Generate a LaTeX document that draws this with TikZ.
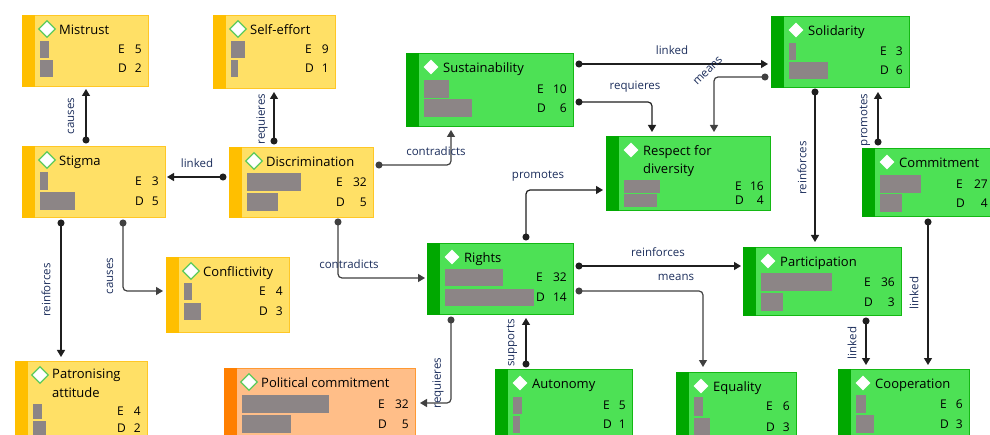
\documentclass[tikz,border=0pt]{standalone}
\usepackage{fontspec}
\setmainfont{Open Sans}
\usetikzlibrary{calc,arrows.meta,shapes.geometric}
\definecolor{yfill}{HTML}{FFE066}
\definecolor{ybar}{HTML}{FFBF00}
\definecolor{yline}{HTML}{FFC726}
\definecolor{gfill}{HTML}{4DE155}
\definecolor{gbar}{HTML}{00A800}
\definecolor{gline}{HTML}{14B814}
\definecolor{ofill}{HTML}{FFBE88}
\definecolor{obar}{HTML}{FF7F00}
\definecolor{oline}{HTML}{FF9933}
\definecolor{barc}{HTML}{8C8586}
\definecolor{lab}{HTML}{1C2E5C}
\definecolor{dgreen}{HTML}{5CCB5C}
\tikzset{
  boxy/.style={fill=yfill,draw=yline,line width=1pt,inner sep=0pt},
  boxg/.style={fill=gfill,draw=gline,line width=1pt,inner sep=0pt},
  boxo/.style={fill=ofill,draw=oline,line width=1pt,inner sep=0pt},
  bary/.style={fill=ybar},
  barg/.style={fill=gbar},
  baro/.style={fill=obar},
  diay/.style={diamond,fill=white,draw=dgreen,line width=1.2pt,minimum width=17pt,minimum height=17pt,inner sep=0pt},
  diag/.style={diamond,fill=white,minimum width=15pt,minimum height=15pt,inner sep=0pt},
  diao/.style={diay},
  ttl/.style={anchor=base west,inner sep=0pt,align=left,font=\fontsize{13}{18.5}\selectfont,text=black},
  val/.style={inner sep=0pt,font=\fontsize{12}{14}\selectfont,text=black},
  lbl/.style={inner sep=0pt,font=\fontsize{11.5}{13}\selectfont,text=lab},
  conn/.style={draw=black!88,line width=1.2pt,{Circle[length=7pt]}-{Triangle[width=8pt,length=7pt]},shorten <=-3.5pt,rounded corners=4pt},
  conng/.style={conn,draw=black!75},
}
% optional #1: baseline offset of the (last) title line
\newcommand\mkbox[8][19.5]{%
  \node[box#3,minimum width=#6pt,minimum height=#7pt,anchor=north west] (#2) at (#4,#5) {};
  \fill[bar#3] (#2.north west) rectangle ($(#2.south west)+(13,0)$);
  \node[dia#3] (#2-d) at ($(#2.north west)+(25,14)$) {};
  \node[ttl] (#2-t) at ($(#2.north west)+(37,#1)$) {#8};
}
\newcommand\bars[9]{%
  \fill[barc] ($(#1.north west)+(18,#2)$) rectangle ++(#5,#4);
  \fill[barc] ($(#1.north west)+(18,#3)$) rectangle ++(#6,#4);
  \node[val,anchor=west] (#1-el) at ($(#1.north east)+(-#9,#2+#4/2)$) {E};
  \node[val,anchor=east] (#1-ev) at ($(#1.north east)+(-7,#2+#4/2)$) {#7};
  \node[val,anchor=west] (#1-dl) at ($(#1.north east)+(-#9,#3+#4/2)$) {D};
  \node[val,anchor=east] (#1-dv) at ($(#1.north east)+(-7,#3+#4/2)$) {#8};
}
\begin{document}
\begin{tikzpicture}[x=1pt,y=-1pt]
\useasboundingbox (0,0) rectangle (990,435);
\clip (0,0) rectangle (990,435);
\fill[white] (0,0) rectangle (990,435);

\mkbox{mistrust}{y}{22}{15}{126}{71}{Mistrust}
\bars{mistrust}{26}{45}{17}{9}{13}{5}{2}{31}
\mkbox{selfeffort}{y}{213}{15}{122}{73}{Self-effort}
\bars{selfeffort}{26}{45}{17}{14}{7}{9}{1}{31}
\mkbox{stigma}{y}{22}{146}{143}{71}{Stigma}
\bars{stigma}{26}{46}{18}{8}{35}{3}{5}{31}
\mkbox{discrimination}{y}{229}{147}{144}{70}{Discrimination}
\bars{discrimination}{26}{46}{18}{54}{31}{32}{5}{38}
\mkbox{conflictivity}{y}{166}{257}{123}{75}{Conflictivity}
\bars{conflictivity}{26}{46}{17}{8}{17}{4}{3}{31}
\mkbox[36]{patronising}{y}{15}{361}{132}{90}{Patronising\\attitude}
\bars{patronising}{43}{60}{15}{9}{13}{4}{2}{31}
\mkbox{political}{o}{224}{368}{191}{80}{Political commitment}
\bars{political}{27}{47}{18}{87}{49}{32}{5}{38}
\mkbox{sustainability}{g}{406}{53}{167}{73}{Sustainability}
\bars{sustainability}{27}{46}{18}{25}{48}{10}{6}{37}
\mkbox[38]{respect}{g}{606}{136}{164}{74}{Respect for\\diversity}
\bars{respect}{44}{58}{13}{36}{33}{16}{4}{36}
\mkbox{solidarity}{g}{771}{16}{138}{71}{Solidarity}
\bars{solidarity}{27}{46}{17}{7}{39}{3}{6}{30}
\mkbox{commitment}{g}{862}{148}{132}{68}{Commitment}
\bars{commitment}{27}{46}{18}{41}{22}{27}{4}{39}
\mkbox{rights}{g}{427}{243}{146}{71}{Rights}
\bars{rights}{26}{46}{17}{58}{89}{32}{14}{38}
\mkbox{autonomy}{g}{495}{369}{137}{80}{Autonomy}
\bars{autonomy}{28}{47}{17}{9}{7}{5}{1}{30}
\mkbox{equality}{g}{676}{372}{120}{80}{Equality}
\bars{equality}{25}{46}{19}{9}{16}{6}{3}{31}
\mkbox{participation}{g}{743}{247}{158}{68}{Participation}
\bars{participation}{26}{46}{18}{71}{22}{36}{3}{38}
\mkbox{cooperation}{g}{838}{369}{131}{80}{Cooperation}
\bars{cooperation}{26}{46}{18}{10}{18}{6}{3}{30}

\draw[conn] ($(stigma.north west)+(64,-6)$) -- ($(mistrust.north west)+(64,74)$);
\draw[conn] ($(discrimination.north west)+(45,-6)$) -- ($(selfeffort.north west)+(61,77)$);
\draw[conn] ($(discrimination.north west)+(-6,30)$) -- ($(stigma.north west)+(145,31)$);
\draw[conng] ($(discrimination.north west)+(150,18)$) -| ($(sustainability.north west)+(45,77)$);
\draw[conng] ($(discrimination.north west)+(109,75)$) |- ($(rights.north west)+(-2,35)$);
\draw[conn] ($(stigma.north west)+(39,77)$) -- ($(patronising.north west)+(46,-4)$);
\draw[conng] ($(stigma.north west)+(101,77)$) |- ($(conflictivity.north west)+(-3,34)$);
\draw[conn] ($(sustainability.north west)+(173,11)$) -- ($(solidarity.north west)+(-3,48)$);
\draw[conn] ($(sustainability.north west)+(173,49)$) -| ($(respect.north west)+(46,-4)$);
\draw[conng] ($(solidarity.north west)+(-6,61)$) -| ($(respect.north west)+(108,-4)$);
\draw[conn] ($(rights.north west)+(99,-6)$) |- ($(respect.north west)+(-3,54)$);
\draw[conn] ($(solidarity.north west)+(44,76)$) -- ($(participation.north west)+(72,-5)$);
\draw[conn] ($(commitment.north west)+(16,-6)$) -- ($(solidarity.north west)+(107,76)$);
\draw[conn] ($(rights.north west)+(152,23)$) -- ($(participation.north west)+(-2,19)$);
\draw[conng] ($(rights.north west)+(152,48)$) -| ($(equality.north west)+(27,-5)$);
\draw[conng] ($(rights.north west)+(24,77)$) |- ($(political.north west)+(196,35)$);
\draw[conn] ($(autonomy.north west)+(31,-5)$) -- ($(rights.north west)+(99,75)$);
\draw[conn] ($(participation.north west)+(123,74)$) -- ($(cooperation.north west)+(28,-4)$);
\draw[conn] ($(commitment.north west)+(66,74)$) -- ($(cooperation.north west)+(90,-4)$);

\node[lbl,rotate=90] (l1) at (71,116) {causes};
\node[lbl,rotate=90] (l2) at (262,119) {requieres};
\node[lbl] (l3) at (197,163) {linked};
\node[lbl] (l4) at (436,151) {contradicts};
\node[lbl] (l5) at (349,264) {contradicts};
\node[lbl,rotate=90] (l6) at (46,290) {reinforces};
\node[lbl,rotate=90] (l7) at (110,276) {causes};
\node[lbl] (l8) at (672,50) {linked};
\node[lbl] (l9) at (635,87) {requieres};
\node[lbl,rotate=45] (l10) at (708,71) {means};
\node[lbl] (l11) at (538,176) {promotes};
\node[lbl,rotate=90] (l12) at (802,168) {reinforces};
\node[lbl,rotate=90] (l13) at (865,120) {promotes};
\node[lbl] (l14) at (658,252) {reinforces};
\node[lbl] (l15) at (676,277) {means};
\node[lbl,rotate=90] (l16) at (438,383) {requieres};
\node[lbl,rotate=90] (l17) at (512,343) {supports};
\node[lbl,rotate=90] (l18) at (852,343) {linked};
\node[lbl,rotate=90] (l19) at (914,293) {linked};
\end{tikzpicture}
\end{document}
